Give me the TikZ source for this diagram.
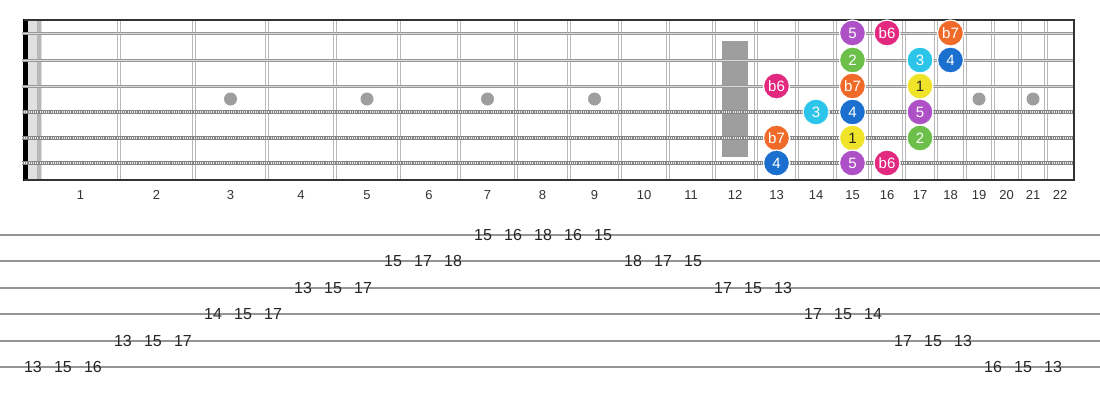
\documentclass[tikz,border=0pt]{standalone}
\usepackage{fontspec}
\setmainfont{Liberation Sans}
\definecolor{cYel}{HTML}{F0E42A}
\definecolor{cGrn}{HTML}{6CC04A}
\definecolor{cCya}{HTML}{2CC4E8}
\definecolor{cBlu}{HTML}{1B6FCF}
\definecolor{cPur}{HTML}{AE50C6}
\definecolor{cPnk}{HTML}{E2287F}
\definecolor{cOrg}{HTML}{F06B2A}
\begin{document}
\begin{tikzpicture}[x=1pt,y=-1pt,
  fretline/.style={draw=black!28, line width=1pt},
  plainstr/.style={draw=black!40, line width=3pt},
  woundstr/.style={draw=black!48, line width=4pt},
  woundtex/.style={draw=black!8, line width=2.2pt, dash pattern=on 0.9pt off 1.3pt},
  border/.style={draw=black!80, line width=2pt},
  note/.style={circle, minimum size=26pt, inner sep=0pt, draw=white, line width=1.2pt, text=white, font=\fontsize{15}{15}\selectfont},
  fretnum/.style={inner sep=0pt, text=black!80, font=\fontsize{13}{13}\selectfont},
  tabline/.style={draw=black!42, line width=1.6pt},
  tabnum/.style={inner sep=0pt, text=black!85, font=\fontsize{16}{16}\selectfont}]
\useasboundingbox (0,0) rectangle (1100,400);
\fill[white] (0,0) rectangle (1100,400);
% nut
\fill[black!12] (28,20) rectangle (42,180);
\fill[black!28] (37,20) rectangle (40.5,180);
\fill[black] (23,19) rectangle (28,181);
% frets
\foreach \x in {119,194,267,335,399,459,516,569,620,668,714,756,797,835,870,904,936,965,993,1020,1046} {
  \draw[fretline] (\x-1.5,20) -- (\x-1.5,180);
  \draw[fretline] (\x+1.5,20) -- (\x+1.5,180);
}
% markers
\fill[black!38] (722,41) rectangle (748,157);
\foreach \x in {230.5,367,487.5,594.5,979,1033} \fill[black!38] (\x,99) circle (6.5);
% strings
\foreach \y in {33,60,86} {
  \draw[plainstr] (22,\y) -- (1074,\y);
  \draw[draw=black!15, line width=0.8pt] (22,\y) -- (1074,\y);
}
\foreach \y in {112,138,163} {
  \draw[woundstr] (22,\y) -- (1074,\y);
  \draw[woundtex] (22,\y) -- (1074,\y);
}
% borders
\draw[border] (24,20) -- (1075,20);
\draw[border] (24,180) -- (1075,180);
\draw[border] (1074,19) -- (1074,181);
% fret numbers
\foreach \n/\c in {1/80.5,2/156.5,3/230.5,4/301,5/367,6/429,7/487.5,8/542.5,9/594.5,10/644,11/691,12/735,13/776.5,14/816,15/852.5,16/887,17/920,18/950.5,19/979,20/1006.5,21/1033,22/1060}
  \node[fretnum] (fn\n) at (\c,195) {\n};
% notes
\node[note, fill=cPur] (s1f15) at (852.5,33) {5};
\node[note, fill=cPnk] (s1f16) at (887,33) {b6};
\node[note, fill=cOrg] (s1f18) at (950.5,33) {b7};
\node[note, fill=cGrn] (s2f15) at (852.5,60) {2};
\node[note, fill=cCya] (s2f17) at (920,60) {3};
\node[note, fill=cBlu] (s2f18) at (950.5,60) {4};
\node[note, fill=cPnk] (s3f13) at (776.5,86) {b6};
\node[note, fill=cOrg] (s3f15) at (852.5,86) {b7};
\node[note, fill=cYel, text=black!85] (s3f17) at (920,86) {1};
\node[note, fill=cCya] (s4f14) at (816,112) {3};
\node[note, fill=cBlu] (s4f15) at (852.5,112) {4};
\node[note, fill=cPur] (s4f17) at (920,112) {5};
\node[note, fill=cOrg] (s5f13) at (776.5,138) {b7};
\node[note, fill=cYel, text=black!85] (s5f15) at (852.5,138) {1};
\node[note, fill=cGrn] (s5f17) at (920,138) {2};
\node[note, fill=cBlu] (s6f13) at (776.5,163) {4};
\node[note, fill=cPur] (s6f15) at (852.5,163) {5};
\node[note, fill=cPnk] (s6f16) at (887,163) {b6};
% tab lines
\foreach \i/\y in {1/235,2/261,3/288,4/314,5/341,6/367}
  \draw[tabline] (0,\y) -- (1100,\y);
% tab numbers
\foreach \k/\v/\y in {0/13/367,1/15/367,2/16/367,32/16/367,33/15/367,34/13/367,
  3/13/341,4/15/341,5/17/341,29/17/341,30/15/341,31/13/341,
  6/14/314,7/15/314,8/17/314,26/17/314,27/15/314,28/14/314,
  9/13/288,10/15/288,11/17/288,23/17/288,24/15/288,25/13/288,
  12/15/261,13/17/261,14/18/261,20/18/261,21/17/261,22/15/261,
  15/15/235,16/16/235,17/18/235,18/16/235,19/15/235}
  \node[tabnum] (t\k) at (33+30*\k,\y) {\v};
\end{tikzpicture}
\end{document}
